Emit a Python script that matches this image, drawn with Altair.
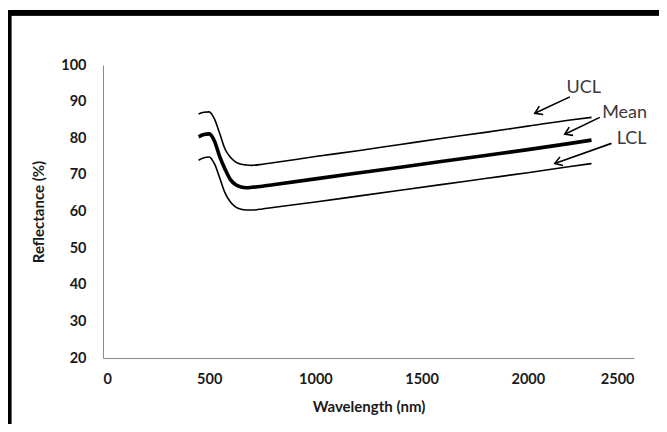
import altair as alt
import pandas as pd

# ---- data ----
wavelength = [450, 475, 500, 525, 550, 575, 600, 625, 650, 675, 700, 750, 800,
              1000, 1200, 1400, 1600, 1800, 2000, 2200, 2300]
ucl = [86.6, 87.1, 87.2, 85.2, 81.2, 77.0, 74.8, 73.5, 72.9, 72.7, 72.6, 72.9, 73.3,
       75.0, 76.6, 78.3, 80.0, 81.6, 83.3, 85.0, 85.7]
mean = [80.4, 81.0, 81.2, 79.2, 74.9, 71.5, 68.7, 67.3, 66.7, 66.5, 66.6, 66.9, 67.3,
        68.9, 70.5, 72.1, 73.7, 75.3, 76.9, 78.6, 79.5]
lcl = [74.0, 74.7, 74.9, 73.0, 69.1, 65.0, 62.6, 61.2, 60.6, 60.4, 60.4, 60.7, 61.1,
       62.6, 64.2, 65.8, 67.4, 69.0, 70.6, 72.3, 73.1]

series_names = ["UCL", "Mean", "LCL"]
x_ticks = [0, 500, 1000, 1500, 2000, 2500]
y_ticks = [20, 30, 40, 50, 60, 70, 80, 90, 100]

ann_labels = ["UCL", "Mean", "LCL"]
ann_text_x = [2263, 2456, 2489]
ann_text_y = [93.7, 87.0, 79.9]
arrow_tail_x = [2198, 2339, 2394]
arrow_tail_y = [91.3, 85.7, 78.6]
arrow_head_x = [2033, 2174, 2127]
arrow_head_y = [86.8, 81.1, 73.1]
arrow_angle = [335, 335, 341]

# ---- tables ----
rows = []
for name, vals in zip(series_names, (ucl, mean, lcl)):
    for w, v in zip(wavelength, vals):
        rows.append({"wavelength": w, "reflectance": v, "series": name})
df = pd.DataFrame(rows)

ann = pd.DataFrame({
    "label": ann_labels, "tx": ann_text_x, "ty": ann_text_y,
    "x1": arrow_tail_x, "y1": arrow_tail_y,
    "x2": arrow_head_x, "y2": arrow_head_y, "angle": arrow_angle,
})

FONT = "Lato"
xscale = alt.Scale(domain=[0, 2500], nice=False, zero=False)
yscale = alt.Scale(domain=[20, 100], nice=False, zero=False)
x_axis = alt.Axis(values=x_ticks, title="Wavelength (nm)", format="d",
                  labelPadding=14, titlePadding=14, labelOverlap=False)
y_axis = alt.Axis(values=y_ticks, title="Reflectance (%)", format="d",
                  labelPadding=17, titlePadding=14, labelOverlap=False)


def X(field):
    return alt.X(field, type="quantitative", scale=xscale, axis=x_axis)


def Y(field):
    return alt.Y(field, type="quantitative", scale=yscale, axis=y_axis)


base = alt.Chart(df)
thin = base.mark_line(color="black", interpolate="monotone", strokeWidth=1.6).encode(
    x=X("wavelength"), y=Y("reflectance"), detail="series:N"
).transform_filter(alt.FieldOneOfPredicate(field="series", oneOf=["UCL", "LCL"]))
thick = base.mark_line(color="black", interpolate="monotone", strokeWidth=3.6).encode(
    x=X("wavelength"), y=Y("reflectance")
).transform_filter(alt.FieldEqualPredicate(field="series", equal="Mean"))

arrows = alt.Chart(ann).mark_rule(color="black", strokeWidth=1.6).encode(
    x=X("x1"), y=Y("y1"), x2="x2:Q", y2="y2:Q"
)

heads = alt.Chart(ann).mark_point(
    shape="M1,-0.65L0,0L1,0.65", filled=False, color="black",
    strokeWidth=1.6, size=200, opacity=1
).encode(x=X("x2"), y=Y("y2"), angle=alt.Angle("angle:Q", scale=None))

texts = alt.Chart(ann).mark_text(
    font=FONT, fontSize=18, color="#3a3a3a", align="center", baseline="middle"
).encode(x=X("tx"), y=Y("ty"), text="label:N")

# frame lines seen at the top and left of the reference image
frame_top = alt.Chart(ann).mark_rule(color="black", strokeWidth=5.5).encode(
    x=alt.value(-100), x2=alt.value(600), y=alt.value(-52.25)
)
frame_left = alt.Chart(ann).mark_rule(color="black", strokeWidth=5.5).encode(
    x=alt.value(-94.5), y=alt.value(-55), y2=alt.value(400)
)

chart = alt.layer(thin, thick, arrows, heads, texts, frame_top, frame_left).properties(
    width=531, height=293,
    padding={"left": 95, "top": 57, "right": 25, "bottom": 66},
    autosize=alt.AutoSizeParams(type="none"),
    background="white",
).configure_view(stroke=None).configure_axis(
    grid=False, ticks=False, domainColor="#8a8a8a", domainWidth=1,
    labelFont=FONT, labelFontSize=14.5, labelFontWeight="bold", labelColor="#1a1a1a",
    titleFont=FONT, titleFontSize=15, titleFontWeight="bold", titleColor="#1a1a1a",
)

chart.save("out.html", embed_options={"renderer": "svg", "actions": False})
